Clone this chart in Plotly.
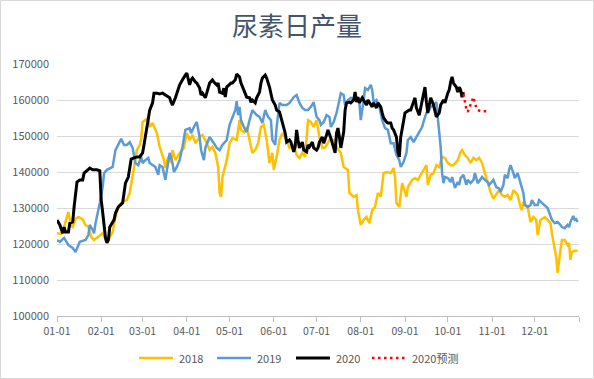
import pandas as pd
import plotly.graph_objects as go

# ---------------- data (day-of-year offsets from 01-01, daily output in tonnes) ----------------
days_2018 = [0, 3, 5, 7, 8, 10, 11, 13, 15, 18, 20, 22, 24, 26, 29, 31, 32, 35, 38, 39, 41, 43, 46, 49, 51, 53, 55, 56, 58, 59,
             60, 62, 64, 65, 67, 70, 72, 75, 76, 78, 80, 81, 83, 86, 89, 91, 93, 95, 97, 100, 102, 105, 107, 109, 111, 113, 114,
             115, 116, 119, 121, 123, 126, 127, 128, 129, 131, 133, 135, 137, 139, 141, 143, 145, 147, 149, 151, 152, 154, 156,
             158, 161, 163, 166, 168, 170, 172, 174, 176, 178, 180, 182, 184, 186, 188, 191, 194, 196, 199, 201, 204, 205, 208,
             210, 211, 213, 215, 217, 219, 221, 223, 225, 227, 229, 231, 234, 236, 237, 238, 240, 242, 243, 245, 246, 248, 249,
             251, 253, 255, 257, 259, 260, 262, 264, 266, 268, 270, 272, 274, 276, 278, 281, 283, 284, 286, 288, 290, 292, 294,
             296, 298, 300, 302, 304, 306, 308, 310, 312, 314, 316, 318, 320, 323, 325, 326, 327, 330, 332, 334, 336, 337, 339,
             342, 344, 346, 347, 349, 350, 351, 352, 353, 354, 356, 358, 359, 360, 361, 363, 365]
vals_2018 = [123000, 122800, 124800, 127200, 128900, 125000, 124700, 127000, 127500, 126800, 125300, 124700, 122000, 121100,
             122000, 122500, 123000, 120500, 122500, 123300, 127500, 130300, 131800, 132200, 134200, 138500, 143000, 146100,
             147500, 149000, 153900, 154400, 155000, 152500, 153600, 150800, 147000, 143300, 141100, 144200, 142500, 146100,
             143300, 145300, 146700, 150800, 148900, 150300, 148000, 149700, 150300, 148000, 146100, 147000, 145300, 141400,
             134200, 133100, 138600, 143300, 148000, 149400, 148900, 151700, 154400, 151700, 151100, 152500, 148900, 145300,
             146100, 148000, 152500, 153100, 148900, 142500, 145300, 140600, 144200, 148900, 150800, 148900, 146700, 147500,
             144700, 143900, 145300, 144200, 154400, 153900, 152500, 154400, 149700, 146700, 146800, 148900, 148900, 147000,
             145300, 141400, 140600, 134200, 133100, 133600, 129400, 125300, 126700, 127500, 125800, 129400, 130300, 134200,
             133100, 139700, 140000, 139700, 141100, 138600, 131400, 130300, 136900, 135800, 133100, 135800, 136900, 137800,
             138300, 137800, 139200, 140600, 141900, 136400, 139200, 139700, 141900, 141400, 144200, 143900, 142500, 141900,
             141900, 143300, 145600, 146100, 144700, 143900, 142500, 143900, 143300, 143900, 142500, 139700, 136900, 134400,
             132600, 134000, 135000, 133600, 133100, 133600, 132200, 135000, 133600, 130300, 129400, 131700, 130300, 126100,
             127500, 126700, 122500, 126700, 127500, 126700, 125800, 123000, 119200, 116400, 112000, 116000, 118300, 121100,
             121100, 119700, 120300, 115600, 117800, 118100, 118100]

days_2019 = [0, 2, 5, 8, 11, 13, 16, 20, 22, 23, 25, 26, 27, 29, 30, 32, 33, 35, 37, 39, 41, 43, 45, 47, 49, 51, 53, 55, 57, 59,
             60, 62, 64, 65, 67, 69, 71, 72, 74, 76, 78, 79, 81, 82, 84, 86, 88, 90, 93, 94, 96, 98, 100, 101, 103, 104, 107,
             109, 110, 112, 114, 116, 119, 121, 123, 125, 126, 127, 128, 129, 131, 133, 135, 137, 140, 142, 144, 146, 148, 150,
             151, 153, 154, 156, 158, 161, 163, 166, 168, 170, 172, 174, 176, 178, 180, 182, 184, 185, 187, 189, 191, 192, 194,
             196, 198, 199, 201, 202, 204, 206, 208, 210, 212, 213, 215, 216, 218, 220, 221, 222, 224, 226, 228, 230, 232, 234,
             236, 238, 240, 241, 243, 245, 246, 248, 250, 252, 254, 256, 257, 259, 261, 262, 264, 266, 267, 269, 270, 271, 272,
             274, 276, 277, 279, 281, 282, 283, 285, 287, 288, 290, 292, 293, 295, 297, 298, 300, 302, 303, 304, 306, 308, 310,
             311, 313, 314, 316, 317, 318, 320, 321, 323, 324, 325, 327, 328, 330, 332, 333, 335, 337, 338, 340, 342, 344, 345,
             347, 349, 351, 353, 354, 356, 358, 359, 360, 362, 363, 364, 365]
vals_2019 = [121100, 120600, 121700, 119700, 118900, 117800, 120600, 121100, 122500, 125300, 123900, 123000, 125800, 129400,
             131400, 135800, 139700, 140600, 141100, 141400, 146100, 147500, 149200, 147500, 147500, 148300, 146700, 142500,
             141900, 144200, 142500, 143300, 143900, 142500, 141900, 141400, 139200, 141900, 141400, 137800, 142800, 145300,
             142500, 140000, 141400, 143300, 147000, 151700, 152200, 150800, 152500, 153900, 149700, 146100, 143300, 146700,
             149700, 148300, 148000, 146700, 146100, 147500, 148900, 153100, 155000, 157200, 159700, 155800, 158100, 154400,
             152500, 151100, 154400, 157200, 155800, 155300, 153600, 157200, 155300, 154400, 148900, 147500, 152500, 159200,
             158600, 158600, 159200, 160800, 161400, 159200, 157800, 157200, 157200, 158100, 159400, 155300, 154400, 153100,
             153900, 155800, 155300, 152500, 153900, 156400, 160000, 161900, 161400, 158600, 160000, 160600, 160000, 160800,
             159200, 154400, 160000, 163300, 162800, 164200, 162800, 159400, 160000, 158100, 154400, 152200, 151700, 148000,
             148000, 144700, 143300, 141400, 142800, 145300, 148900, 149700, 148300, 149700, 151000, 152500, 153900, 156400,
             157200, 158100, 158600, 159400, 155000, 147000, 139700, 136900, 138600, 138300, 137200, 138600, 135600, 137200,
             136400, 138300, 139200, 136400, 137800, 136900, 137800, 139700, 136900, 138300, 138600, 137800, 137200, 136400,
             136900, 137800, 135800, 135400, 134400, 136400, 139200, 138300, 140600, 141900, 139700, 138300, 139700, 137800,
             136900, 134200, 130800, 130300, 130800, 132200, 130800, 130800, 132200, 131400, 130800, 130000, 128900, 126700,
             125800, 126100, 125300, 124700, 124400, 125300, 124700, 126100, 127800, 126700, 126900, 126100]

days_2020 = [0, 2, 4, 5, 6, 8, 9, 11, 12, 13, 14, 16, 18, 19, 20, 22, 23, 25, 28, 30, 31, 32, 33, 34, 35, 36, 37, 39, 40, 41,
             43, 46, 47, 48, 50, 51, 52, 54, 56, 58, 60, 61, 62, 63, 64, 65, 67, 68, 70, 72, 74, 76, 78, 79, 80, 81, 83, 85, 86,
             88, 89, 90, 91, 93, 94, 95, 97, 98, 100, 101, 102, 104, 106, 107, 109, 110, 112, 113, 114, 116, 117, 118, 119, 121,
             122, 123, 125, 126, 128, 129, 130, 132, 133, 135, 136, 137, 139, 140, 142, 143, 144, 146, 147, 149, 150, 151, 153,
             154, 156, 157, 158, 160, 161, 163, 164, 166, 167, 168, 169, 170, 172, 173, 175, 176, 177, 179, 180, 182, 183, 184,
             186, 187, 189, 190, 192, 194, 195, 196, 197, 198, 199, 201, 202, 203, 205, 206, 208, 209, 210, 211, 212, 214, 215,
             217, 218, 219, 221, 222, 224, 225, 227, 228, 229, 231, 232, 234, 235, 236, 238, 239, 240, 241, 243, 244, 245, 247,
             248, 250, 251, 252, 254, 255, 257, 258, 259, 260, 261, 262, 264, 265, 266, 268, 269, 271, 272, 274, 275, 276, 277,
             278, 280, 281, 282, 283, 284, 285]
vals_2020 = [126700, 125300, 123000, 124700, 123300, 123300, 125800, 126100, 130300, 133100, 137200, 137800, 137800, 139700,
             140000, 140600, 141100, 140600, 140600, 140300, 132200, 128900, 124700, 121700, 120300, 121100, 124700, 125800,
             126700, 128600, 130300, 131400, 134200, 136900, 138600, 141400, 143600, 143900, 144200, 144200, 145300, 147500,
             150300, 152500, 154400, 157200, 159200, 161900, 161900, 161700, 161900, 161400, 160800, 160600, 159400, 158600,
             160600, 163300, 164200, 165600, 166100, 166900, 167500, 164200, 165600, 166100, 165000, 164700, 163300, 161400,
             161900, 160600, 163300, 164700, 165600, 165000, 164200, 164700, 162200, 161900, 163300, 160800, 163600, 164200,
             164700, 164700, 165600, 167200, 166400, 164700, 163600, 161900, 160800, 160600, 159400, 160000, 159200, 160600,
             162200, 164700, 166100, 166900, 166100, 163600, 161900, 160000, 158600, 157200, 156700, 155300, 153600, 150800,
             148300, 148900, 148300, 145600, 147000, 151700, 148900, 146700, 148300, 146100, 145600, 147500, 147000, 148300,
             146700, 146100, 146700, 148300, 149700, 148000, 150300, 151700, 149400, 146700, 145300, 150800, 152200, 149700,
             146700, 151100, 157200, 159200, 159400, 159200, 160000, 162200, 159400, 160800, 159200, 160600, 160000, 158600,
             160000, 159400, 158100, 159200, 157800, 159200, 158100, 156400, 155000, 153900, 153600, 153600, 152200, 151700,
             149700, 145600, 144200, 149700, 155000, 156400, 156700, 157200, 157200, 159400, 160600, 157800, 155800, 157800,
             161400, 163600, 159400, 156400, 158600, 160600, 158600, 157200, 155300, 156400, 158600, 160000, 159200, 161900,
             162800, 165000, 166400, 164700, 163600, 162200, 163600, 162800, 160800, 162200]

days_2020f = [285, 286, 287, 288, 289, 290, 291, 292, 293, 294, 295, 297, 300, 302]
vals_2020f = [161600, 159000, 157500, 156700, 157800, 159200, 160000, 160800, 159200, 157800, 157200, 156900, 156900, 156900]

series_names = ["2018", "2019", "2020", "2020预测"]
tick_dates = ["2020-01-01", "2020-02-01", "2020-03-01", "2020-04-01", "2020-05-01", "2020-06-01",
              "2020-07-01", "2020-08-01", "2020-09-01", "2020-10-01", "2020-11-01", "2020-12-01", "2021-01-01"]
tick_labels = ["01-01", "02-01", "03-01", "04-01", "05-01", "06-01",
               "07-01", "08-01", "09-01", "10-01", "11-01", "12-01", ""]
y_ticks = [100000, 110000, 120000, 130000, 140000, 150000, 160000, 170000]

# ---------------- figure ----------------
base = pd.Timestamp("2020-01-01")


def to_dates(days):
    return base + pd.to_timedelta(days, unit="D")


W, H = 594, 379
ml, mr, mt, mb = 57, 15, 64, 63
pw, ph = W - ml - mr, H - mt - mb

fig = go.Figure()
styles = [
    dict(color="#FFC000", width=2.5),
    dict(color="#5B9BD5", width=2.5),
    dict(color="#000000", width=3),
    dict(color="#FF0000", width=2.5, dash="2.5px,3.5px"),
]
for name, d, v, st in zip(series_names,
                          [days_2018, days_2019, days_2020, days_2020f],
                          [vals_2018, vals_2019, vals_2020, vals_2020f],
                          styles):
    fig.add_trace(go.Scatter(x=to_dates(d), y=v, mode="lines", name=name, line=st, showlegend=False))

# legend drawn as layout decoration (sample line + text), laid out left to right
legend_left_px = [139, 217, 296, 372]   # page px where each sample line starts
sample_len_px = 34
legend_y = -42 / ph
shapes = [dict(type="rect", xref="paper", yref="paper",
               x0=(0.5 - ml) / pw, x1=(W - 0.5 - ml) / pw,
               y0=-(mb - 0.5) / ph, y1=(ph + mt - 0.5) / ph,
               line=dict(color="#D9D9D9", width=1), fillcolor="rgba(0,0,0,0)", layer="below")]
annotations = []
for name, st, lx in zip(series_names, styles, legend_left_px):
    x0 = (lx - ml) / pw
    x1 = (lx + sample_len_px - ml) / pw
    shapes.append(dict(type="line", xref="paper", yref="paper", x0=x0, x1=x1, y0=legend_y, y1=legend_y,
                       line=dict(color=st["color"], width=st["width"], dash=st.get("dash", "solid"))))
    annotations.append(dict(text=name, xref="paper", yref="paper", x=(lx + sample_len_px + 4 - ml) / pw,
                            y=legend_y, xanchor="left", yanchor="middle", showarrow=False,
                            font=dict(size=11, color="#595959")))

fig.update_layout(
    width=W, height=H,
    margin=dict(l=ml, r=mr, t=mt, b=mb, autoexpand=False),
    paper_bgcolor="white", plot_bgcolor="white",
    font=dict(family="Noto Sans CJK SC, Noto Sans, sans-serif", size=11, color="#595959"),
    title=dict(text="尿素日产量", x=0.5, xanchor="center", y=1 - 27 / H, yanchor="middle",
               font=dict(size=26, color="#44546A", family="Noto Sans CJK SC")),
    showlegend=False,
    xaxis=dict(type="date", range=["2020-01-01", "2021-01-01"],
               tickvals=tick_dates, ticktext=tick_labels,
               ticks="outside", ticklen=5, tickcolor="#BFBFBF",
               showline=True, linecolor="#BFBFBF", linewidth=1,
               showgrid=False, zeroline=False, automargin=False,
               tickfont=dict(size=10.5, color="#595959")),
    yaxis=dict(range=[100000, 170000], tickvals=y_ticks, tickformat="d",
               showgrid=True, gridcolor="#D9D9D9", gridwidth=1,
               zeroline=False, showline=False, ticks="", ticklabelstandoff=7,
               automargin=False,
               tickfont=dict(size=11, color="#595959")),
    shapes=shapes,
    annotations=annotations,
)

fig.write_html("out.html", config={"displayModeBar": False},
               post_script="document.body.style.margin='0';document.body.style.overflow='hidden';")
